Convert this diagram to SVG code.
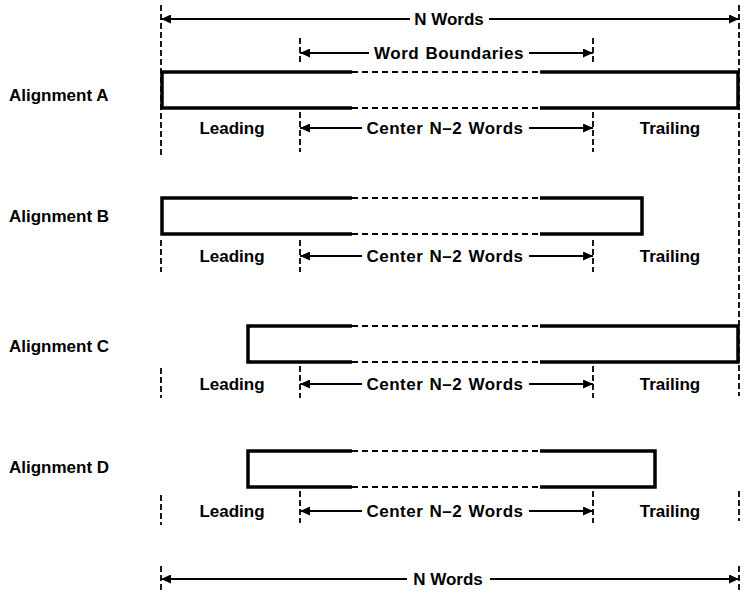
<svg xmlns="http://www.w3.org/2000/svg" width="746" height="596" viewBox="0 0 746 596">
<defs>
<marker id="ah" markerUnits="userSpaceOnUse" markerWidth="11" markerHeight="9" refX="10" refY="4.5" orient="auto">
<path d="M0,0 L10,4.5 L0,9 z" fill="#000"/>
</marker>
</defs>
<style>
text{font-family:"Liberation Sans",Arial,sans-serif;font-weight:bold;font-size:17px;fill:#000}
.mid{text-anchor:middle}
.ws{letter-spacing:0.5px;word-spacing:1px}
.guide{stroke:#000;stroke-width:1.8;stroke-dasharray:6 3;fill:none}
.solid{stroke:#000;stroke-width:3.5;fill:none;stroke-linejoin:miter}
.dash{stroke:#000;stroke-width:2;stroke-dasharray:6 4;fill:none}
.arr{stroke:#000;stroke-width:1.8;fill:none;marker-end:url(#ah)}
</style>
<rect width="746" height="596" fill="#fff"/>

<g id="connectors">
<line class="guide" x1="161" y1="5" x2="161" y2="155"/>
<line class="guide" x1="739" y1="5" x2="739" y2="396"/>
<line class="guide" x1="300" y1="38" x2="300" y2="64"/>
<line class="guide" x1="593" y1="38" x2="593" y2="64"/>
<line class="guide" x1="300" y1="112" x2="300" y2="152"/>
<line class="guide" x1="593" y1="112" x2="593" y2="152"/>
<line class="guide" x1="161" y1="240" x2="161" y2="272"/>
<line class="guide" x1="300" y1="240" x2="300" y2="272"/>
<line class="guide" x1="593" y1="240" x2="593" y2="272"/>
<line class="guide" x1="161" y1="368" x2="161" y2="398"/>
<line class="guide" x1="300" y1="366" x2="300" y2="398"/>
<line class="guide" x1="593" y1="366" x2="593" y2="398"/>
<line class="guide" x1="161" y1="495" x2="161" y2="525"/>
<line class="guide" x1="300" y1="491" x2="300" y2="523"/>
<line class="guide" x1="593" y1="491" x2="593" y2="523"/>
<line class="guide" x1="739" y1="491" x2="739" y2="521"/>
<line class="guide" x1="161" y1="566" x2="161" y2="592"/>
<line class="guide" x1="739" y1="566" x2="739" y2="592"/>

<line class="arr" x1="410" y1="19" x2="161" y2="19"/>
<line class="arr" x1="489" y1="19" x2="739" y2="19"/>
<text class="mid" x="449" y="25">N Words</text>
<line class="arr" x1="369" y1="53" x2="300" y2="53"/>
<line class="arr" x1="529" y1="53" x2="593" y2="53"/>
<text class="mid ws" x="449" y="59">Word Boundaries</text>
<line class="arr" x1="362" y1="128" x2="300" y2="128"/>
<line class="arr" x1="529" y1="128" x2="593" y2="128"/>
<line class="arr" x1="362" y1="256" x2="300" y2="256"/>
<line class="arr" x1="529" y1="256" x2="593" y2="256"/>
<line class="arr" x1="362" y1="384" x2="300" y2="384"/>
<line class="arr" x1="529" y1="384" x2="593" y2="384"/>
<line class="arr" x1="362" y1="511" x2="300" y2="511"/>
<line class="arr" x1="529" y1="511" x2="593" y2="511"/>
<line class="arr" x1="407" y1="579" x2="161" y2="579"/>
<line class="arr" x1="490" y1="579" x2="739" y2="579"/>
<text class="mid" x="448" y="585">N Words</text>
</g>

<g id="alignment-a">
<text x="9" y="101">Alignment A</text>
<path class="solid" d="M352,72 H162 V108 H352 M540,72 H738 V108 H540"/>
<path class="dash" d="M352,72 H540 M352,108 H540"/>
<text class="mid" x="232" y="134">Leading</text>
<text class="mid ws" x="445" y="134">Center N–2 Words</text>
<text class="mid" x="670" y="134">Trailing</text>
</g>

<g id="alignment-b">
<text x="9" y="222">Alignment B</text>
<path class="solid" d="M352,198 H162 V234 H352 M540,198 H642 V234 H540"/>
<path class="dash" d="M352,198 H540 M352,234 H540"/>
<text class="mid" x="232" y="262">Leading</text>
<text class="mid ws" x="445" y="262">Center N–2 Words</text>
<text class="mid" x="670" y="262">Trailing</text>
</g>

<g id="alignment-c">
<text x="9" y="352">Alignment C</text>
<path class="solid" d="M352,326 H248 V362 H352 M540,326 H738 V362 H540"/>
<path class="dash" d="M352,326 H540 M352,362 H540"/>
<text class="mid" x="232" y="390">Leading</text>
<text class="mid ws" x="445" y="390">Center N–2 Words</text>
<text class="mid" x="670" y="390">Trailing</text>
</g>

<g id="alignment-d">
<text x="9" y="473">Alignment D</text>
<path class="solid" d="M352,451 H248 V487 H352 M540,451 H655 V487 H540"/>
<path class="dash" d="M352,451 H540 M352,487 H540"/>
<text class="mid" x="232" y="517">Leading</text>
<text class="mid ws" x="445" y="517">Center N–2 Words</text>
<text class="mid" x="670" y="517">Trailing</text>
</g>
</svg>
